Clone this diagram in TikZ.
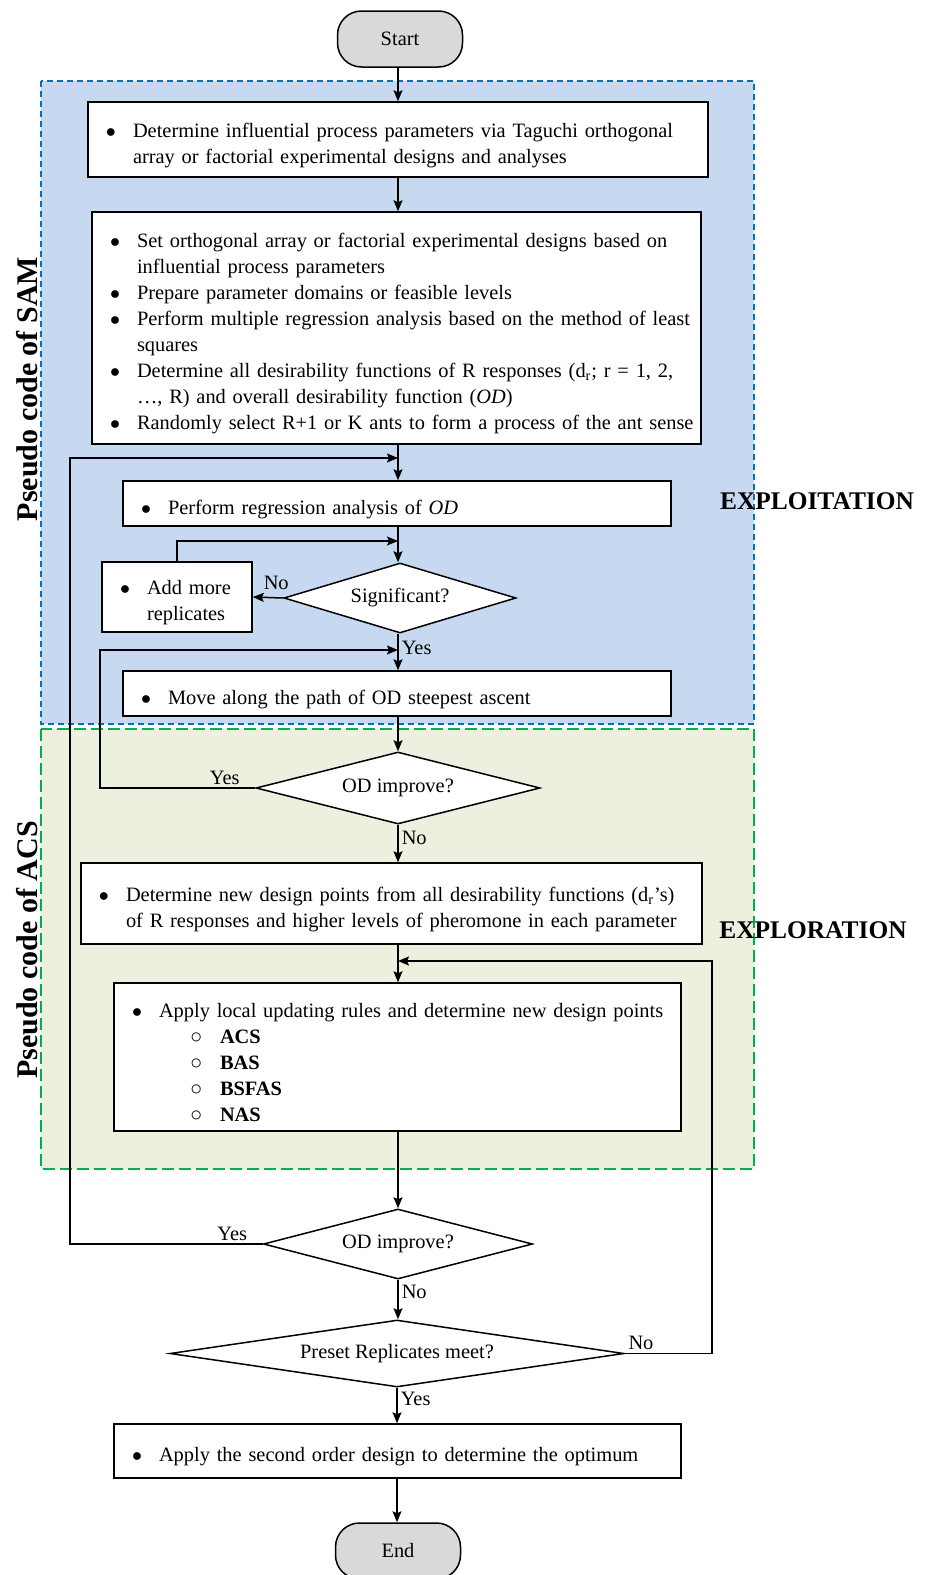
\documentclass[tikz,border=0pt]{standalone}
\usepackage{fontspec}
\setmainfont{Liberation Serif}
\usetikzlibrary{arrows.meta,shapes.geometric}

\definecolor{samfill}{HTML}{C6D9F0}
\definecolor{samline}{HTML}{0070C0}
\definecolor{acsfill}{HTML}{EBF1DE}
\definecolor{acsline}{HTML}{00B050}
\definecolor{termgray}{HTML}{D9D9D9}

\newcommand{\bitem}[1]{\par\hangindent=18.5pt\hangafter=1\noindent\hspace*{5pt}\makebox[13.5pt][l]{$\bullet$}#1\par}
\newcommand{\subitm}[1]{\par\noindent\hspace*{34pt}\makebox[15pt][l]{○}\textbf{#1}\par}

\tikzset{
  term/.style={draw,fill=termgray,rounded corners=12pt,minimum width=62.5pt,minimum height=28pt,inner sep=0pt},
  task/.style={draw,fill=white,align=left,inner xsep=4pt,inner ysep=0pt},
  test/.style={diamond,draw,fill=white,inner sep=0pt},
  tag/.style={inner sep=1.5pt},
  region/.style={-,line width=0.6pt}
}

\begin{document}
\begin{tikzpicture}[->,>={Stealth[length=5.5pt,width=4.5pt,inset=1pt]},x=0.5pt,y=-0.5pt,line width=0.75pt,
        font=\fontsize{10.2}{13}\selectfont]

  \useasboundingbox (0,0) rectangle (930,1575);

  % the two pseudo code regions
  \path[region,draw=samline,fill=samfill,dash pattern=on 3pt off 2pt] (41,81) rectangle (754,724);
  \path[region,draw=acsline,fill=acsfill,dash pattern=on 6pt off 2.5pt] (41,729) rectangle (754,1169);

  \node[rotate=90,font=\fontsize{15}{18}\selectfont\bfseries] (SAM) at (27,389) {Pseudo code of SAM};
  \node[rotate=90,font=\fontsize{15}{18}\selectfont\bfseries] (ACS) at (27,950) {Pseudo code of ACS};
  \node[font=\fontsize{12.7}{15}\selectfont\bfseries] (Exploit) at (817,501) {EXPLOITATION};
  \node[font=\fontsize{12.7}{15}\selectfont\bfseries] (Explore) at (813,930) {EXPLORATION};

  \node[term] (Start) at (400,39) {Start};

  \node[task,minimum width=310pt,minimum height=37.5pt,text width=302pt] (Influence) at (398,139.5)
    {\bitem{Determine influential process parameters via Taguchi orthogonal\newline array or factorial experimental designs and analyses}};

  \node[task,minimum width=304.5pt,minimum height=116pt,text width=296.5pt] (Setup) at (396.5,328)
    {\bitem{Set orthogonal array or factorial experimental designs based on\newline influential process parameters}
     \bitem{Prepare parameter domains or feasible levels}
     \bitem{\mbox{Perform multiple regression analysis based on the method of least}\newline squares}
     \bitem{Determine all desirability functions of R responses (d\textsubscript{r}; r = 1, 2,\newline …, R) and overall desirability function (\textit{OD})}
     \bitem{\mbox{Randomly select R+1 or K ants to form a process of the ant sense}}};

  \node[task,minimum width=274pt,minimum height=22.5pt,text width=266pt] (Regress) at (397,503.5)
    {\bitem{Perform regression analysis of \textit{OD}}};

  \node[test,aspect=3.31,minimum width=116pt,minimum height=35pt] (Significant) at (400,598) {Significant?};

  \node[task,minimum width=75pt,minimum height=35pt,text width=67pt] (Replicate) at (177,597)
    {\bitem{Add more\newline replicates}};

  \node[task,minimum width=274pt,minimum height=22.5pt,text width=266pt] (Ascent) at (397,693.5)
    {\bitem{Move along the path of OD steepest ascent}};

  \node[test,aspect=3.94,minimum width=142pt,minimum height=36pt] (Improve A) at (398,788) {OD improve?};

  \node[task,minimum width=310.5pt,minimum height=40.5pt,text width=302.5pt] (NewPoints) at (391.5,903.5)
    {\bitem{Determine new design points from all desirability functions (d\textsubscript{r}’s)\newline of R responses and higher levels of pheromone in each parameter}};

  \node[task,minimum width=283.5pt,minimum height=74pt,text width=275.5pt] (LocalRules) at (397.5,1057)
    {\bitem{Apply local updating rules and determine new design points}
     \subitm{ACS}
     \subitm{BAS}
     \subitm{BSFAS}
     \subitm{NAS}};

  \node[test,aspect=3.84,minimum width=134.5pt,minimum height=35pt] (Improve B) at (398,1244) {OD improve?};

  \node[test,aspect=6.78,minimum width=227pt,minimum height=33.5pt] (Preset) at (397,1353.5) {Preset Replicates meet?};

  \node[task,minimum width=283.5pt,minimum height=27pt,text width=275.5pt] (Optimum) at (397.5,1451)
    {\bitem{Apply the second order design to determine the optimum}};

  \node[term] (End) at (398,1551) {End};

  % merge points and loop lanes
  \coordinate (Merge A) at (398,458);
  \coordinate (Merge B) at (398,541);
  \coordinate (Merge C) at (398,650);
  \coordinate (Merge D) at (398,961);
  \coordinate (Lane A) at (70,458);
  \coordinate (Lane B) at (100,650);
  \coordinate (Lane C) at (712,961);

  \draw (Merge A |- Start.south) -- (Merge A |- Influence.north);
  \draw (Merge A |- Influence.south) -- (Merge A |- Setup.north);
  \draw (Merge A |- Setup.south) -- (Merge A |- Regress.north);
  \draw (Merge A |- Regress.south) -- (Merge A |- Significant.north);
  \draw (Significant.west) -- node[tag,pos=0.23,above,yshift=2pt] {No} (Replicate.east);
  \draw (Replicate.north) |- (Merge B);
  \draw (Merge C |- Significant.south) -- node[tag,pos=0.4,right] {Yes} (Merge C |- Ascent.north);
  \draw (Merge C |- Ascent.south) -- (Improve A.north);
  \draw (Improve A.west) -| node[tag,pos=0,above left,xshift=-6pt] {Yes} (Lane B) -- (Merge C);
  \draw (Improve A.south) -- node[tag,pos=0.36,right] {No} (Merge D |- NewPoints.north);
  \draw (Merge D |- NewPoints.south) -- (Merge D |- LocalRules.north);
  \draw (Merge D |- LocalRules.south) -- (Improve B.north);
  \draw (Improve B.west) -| node[tag,pos=0,above left,xshift=-6pt] {Yes} (Lane A) -- (Merge A);
  \draw (Improve B.south) -- node[tag,pos=0.3,right] {No} (Improve B.south |- Preset.north);
  \draw (Preset.east) -| node[tag,pos=0,above right] {No} (Lane C) -- (Merge D);
  \draw (Preset.south) -- node[tag,pos=0.32,right] {Yes} (Preset.south |- Optimum.north);
  \draw (Preset.south |- Optimum.south) -- (Preset.south |- End.north);
\end{tikzpicture}
\end{document}
